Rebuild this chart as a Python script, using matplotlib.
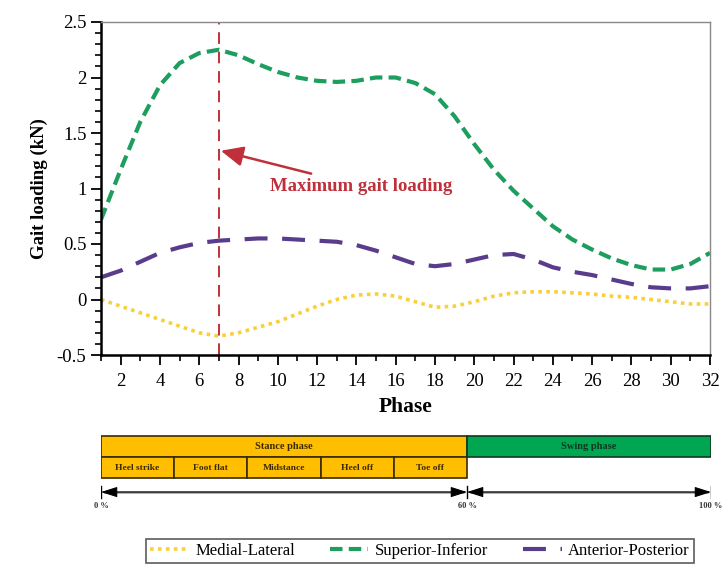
import matplotlib
matplotlib.use("Agg")
import matplotlib.pyplot as plt
from matplotlib.patches import Rectangle
from matplotlib.ticker import MultipleLocator, FuncFormatter

plt.rcParams['font.family'] = ['Liberation Serif', 'DejaVu Serif']

phase = list(range(1, 33))
superior_inferior = [0.72, 1.17, 1.6, 1.93, 2.13, 2.22, 2.25, 2.2, 2.12, 2.05, 2.0, 1.97,
                     1.96, 1.97, 2.0, 2.0, 1.95, 1.85, 1.65, 1.4, 1.17, 0.98, 0.82, 0.66,
                     0.54, 0.45, 0.37, 0.31, 0.27, 0.27, 0.32, 0.42]
anterior_posterior = [0.2, 0.26, 0.34, 0.42, 0.47, 0.51, 0.53, 0.54, 0.55, 0.55, 0.54, 0.53,
                      0.52, 0.49, 0.44, 0.38, 0.32, 0.3, 0.32, 0.36, 0.4, 0.41, 0.36, 0.29,
                      0.25, 0.22, 0.18, 0.14, 0.11, 0.1, 0.1, 0.12]
medial_lateral = [0.0, -0.06, -0.12, -0.18, -0.24, -0.3, -0.33, -0.3, -0.25, -0.2, -0.13, -0.06,
                  0.0, 0.04, 0.05, 0.03, -0.02, -0.07, -0.06, -0.02, 0.03, 0.06, 0.07, 0.07,
                  0.06, 0.05, 0.03, 0.02, 0.0, -0.02, -0.04, -0.04]
max_phase = 7
annot_text = "Maximum gait loading"

stance_label = "Stance phase"
swing_label = "Swing phase"
sub_phases = ["Heel strike", "Foot flat", "Midstance", "Heel off", "Toe off"]
percent_marks = [0, 60, 100]
percent_labels = ["0 %", "60 %", "100 %"]

c_green = "#1E9E5E"
c_purple = "#5A3C8C"
c_yellow = "#F9D03A"
c_red = "#C0303A"

fig = plt.figure(figsize=(7.26, 5.68), dpi=100)
ax = fig.add_axes([101/726, 1-355/568, (710-101)/726, (355-22)/568])

ax.plot(phase, medial_lateral, color=c_yellow, lw=2.6, linestyle=(0, (1, 1.2)),
        label="Medial-Lateral")
ax.plot(phase, superior_inferior, color=c_green, lw=3.0, linestyle=(0, (3.0, 1.5)),
        label="Superior-Inferior")
ax.plot(phase, anterior_posterior, color=c_purple, lw=3.0, linestyle=(0, (5.5, 3.5)),
        label="Anterior-Posterior")
ax.axvline(max_phase, color=c_red, lw=1.4, linestyle=(0, (6, 4)))
ax.annotate(annot_text, xy=(max_phase + 0.1, 1.34), xytext=(9.6, 1.02),
            color=c_red, fontsize=13.5, fontweight='bold', va='center', ha='left',
            arrowprops=dict(arrowstyle='-|>,head_length=1.0,head_width=0.45',
                            color=c_red, lw=1.8, shrinkA=4, shrinkB=0))

ax.set_xlim(1, 32)
ax.set_ylim(-0.5, 2.5)
ax.xaxis.set_minor_locator(MultipleLocator(1))
ax.yaxis.set_major_locator(MultipleLocator(0.5))
ax.yaxis.set_minor_locator(MultipleLocator(0.1))
ax.yaxis.set_major_formatter(FuncFormatter(lambda v, p: f"{v:g}"))
ax.set_xticks(range(2, 33, 2))
ax.tick_params(axis='both', which='major', labelsize=13.5, direction='out', length=7, width=1.3)
ax.tick_params(axis='x', which='major', pad=6)
ax.tick_params(axis='both', which='minor', direction='out', length=4, width=1.2)
for s in ['left', 'bottom']:
    ax.spines[s].set_linewidth(1.8)
    ax.spines[s].set_color('black')
for s in ['top', 'right']:
    ax.spines[s].set_linewidth(1.0)
    ax.spines[s].set_color('#888888')
ax.set_xlabel("Phase", fontsize=15.5, fontweight='bold', labelpad=5)
ax.set_ylabel("Gait loading (kN)", fontsize=13.5, fontweight='bold', labelpad=6)

# Phase bar
bx = fig.add_axes([101/726, 1-515/568, (711-101)/726, 85/568])
bx.set_xlim(0, 100)
bx.set_ylim(0, 1)
bx.axis('off')
y_top, y_mid, y_bot = 0.929, 0.682, 0.435
c_stance = "#FFBF00"
c_swing = "#00A651"
bx.add_patch(Rectangle((percent_marks[0], y_mid), percent_marks[1] - percent_marks[0], y_top - y_mid,
                       facecolor=c_stance, edgecolor='#3a2a00', lw=1.2))
bx.add_patch(Rectangle((percent_marks[1], y_mid), percent_marks[2] - percent_marks[1], y_top - y_mid,
                       facecolor=c_swing, edgecolor='#0b3a1e', lw=1.2))
bx.text((percent_marks[0] + percent_marks[1]) / 2, (y_top + y_mid) / 2, stance_label,
        ha='center', va='center', fontsize=7.5, fontweight='bold', color='#3a2a00')
bx.text((percent_marks[1] + percent_marks[2]) / 2, (y_top + y_mid) / 2, swing_label,
        ha='center', va='center', fontsize=7.5, fontweight='bold', color='#0b3a1e')
w = (percent_marks[1] - percent_marks[0]) / len(sub_phases)
for i, name in enumerate(sub_phases):
    bx.add_patch(Rectangle((percent_marks[0] + i * w, y_bot), w, y_mid - y_bot,
                           facecolor=c_stance, edgecolor='#3a2a00', lw=1.2))
    bx.text(percent_marks[0] + (i + 0.5) * w, (y_mid + y_bot) / 2, name,
            ha='center', va='center', fontsize=6.8, fontweight='bold', color='#3a2a00')

y_arr = 0.27
for a, b in [(percent_marks[0], percent_marks[1]), (percent_marks[1], percent_marks[2])]:
    bx.plot([a + 0.6, b - 0.6], [y_arr, y_arr], color='#999999', lw=1.8, zorder=0)
    bx.annotate("", xy=(a, y_arr), xytext=(b, y_arr),
                arrowprops=dict(arrowstyle='<|-|>,head_length=1.0,head_width=0.32',
                                color='black', lw=0.8, shrinkA=0, shrinkB=0))
for m in percent_marks:
    bx.plot([m, m], [y_arr - 0.07, y_arr + 0.07], color='black', lw=1.0)
for m, lab in zip(percent_marks, percent_labels):
    bx.text(m, 0.11, lab, ha='center', va='center', fontsize=6, fontweight='bold', color='#333333')

handles, labels = ax.get_legend_handles_labels()
leg = fig.legend(handles, labels, loc='center', bbox_to_anchor=(420/726, 1-551/568), ncol=3,
                 fontsize=12, frameon=True, fancybox=False, edgecolor='#333333',
                 handlelength=2.3, columnspacing=2.1, borderpad=0.25, handletextpad=0.4)
leg.get_frame().set_linewidth(1.2)

fig.savefig("out.png", dpi=100)
